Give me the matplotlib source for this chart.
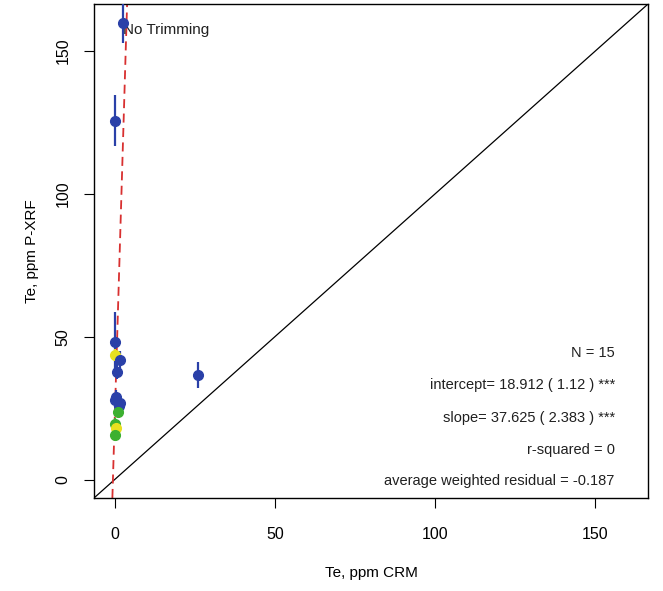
import numpy as np
import matplotlib
matplotlib.use('Agg')
import matplotlib.pyplot as plt

plt.rcParams['font.family'] = ['Liberation Sans', 'DejaVu Sans']

# CRM (x) vs P-XRF (y) values for Te, ppm
crm = [2.5, 0.0, 26.0, 0.0, 0.0, 1.8, 0.7, 0.0, 1.8, 1.3, 1.0, 0.3, 0.4, 0.3, 0.5]
pxrf = [159.7, 125.6, 36.6, 48.3, 43.6, 41.9, 37.8, 27.9, 26.8, 25.8, 23.8, 19.5, 18.1, 15.7, 29.0]
crm_err = [0.3, 0.3, 1.3, 0.2, 0.2, 0.2, 0.2, 0.2, 0.2, 0.2, 0.2, 0.2, 0.2, 0.2, 0.2]
pxrf_err = [7.0, 9.0, 4.5, 10.5, 2.0, 3.0, 2.5, 2.5, 2.5, 2.5, 2.0, 2.0, 2.0, 2.0, 2.5]
groups = ['blue', 'blue', 'blue', 'blue', 'yellow', 'blue', 'blue', 'blue', 'blue',
          'blue', 'green', 'green', 'yellow', 'green', 'blue']

colors = {'blue': '#2a40a8', 'yellow': '#e8e020', 'green': '#3cb030'}

intercept = 18.912
slope = 37.625
stats = ['N = 15',
         'intercept= 18.912 ( 1.12 ) ***',
         'slope= 37.625 ( 2.383 ) ***',
         'r-squared = 0',
         'average weighted residual = -0.187']

fig = plt.figure(figsize=(6.63, 5.91), dpi=100)
ax = fig.add_axes([0.1418, 0.1574, 0.8356, 0.8358])

lim = (-6.4, 166.4)
ax.set_xlim(lim)
ax.set_ylim(lim)

# 1:1 line
ax.plot(lim, lim, color='black', lw=0.9, zorder=1)

# regression line
yy = np.array(lim)
ax.plot((yy - intercept) / slope, yy, color='#d83030', lw=1.3, ls=(0, (5, 3)), zorder=1)

for x, y, xe, ye, g in zip(crm, pxrf, crm_err, pxrf_err, groups):
    ax.errorbar(x, y, xerr=xe, yerr=ye, fmt='o', color=colors[g], ecolor=colors[g],
                ms=7, elinewidth=1.6, capsize=0, zorder=3)

ax.text(0.052, 0.947, 'No Trimming', transform=ax.transAxes, fontsize=11,
        ha='left', va='center', color='#202020')

ys = [0.2935, 0.2287, 0.162, 0.097, 0.034]
for s, yf in zip(stats, ys):
    ax.text(0.94, yf, s, transform=ax.transAxes, fontsize=10.5,
            ha='right', va='center', color='#202020')

ax.set_xticks([0, 50, 100, 150])
ax.set_yticks([0, 50, 100, 150])
ax.tick_params(direction='out', length=7, width=0.8, labelsize=11.5)
ax.tick_params(axis='x', pad=14)
ax.tick_params(axis='y', pad=10)
for lab in ax.get_yticklabels():
    lab.set_rotation(90)
    lab.set_va('center')
for sp in ax.spines.values():
    sp.set_linewidth(1.0)

ax.set_xlabel('Te, ppm CRM', fontsize=11, labelpad=17)
ax.set_ylabel('Te, ppm P-XRF', fontsize=11, labelpad=12)

fig.savefig('out.png', dpi=100)
